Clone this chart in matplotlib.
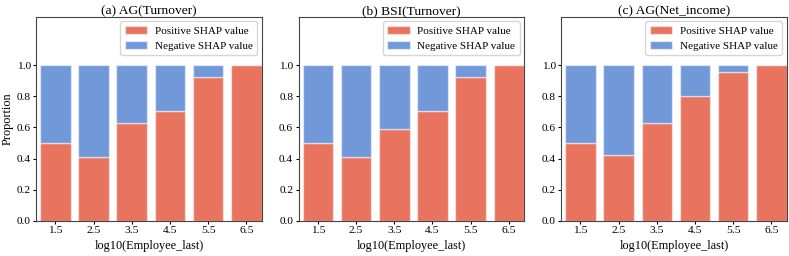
import matplotlib.pyplot as plt
import numpy as np

plt.rcParams['font.family'] = ['Liberation Serif', 'DejaVu Serif']

bins = [1.5, 2.5, 3.5, 4.5, 5.5, 6.5]
tick_labels = ['1.5', '2.5', '3.5', '4.5', '5.5', '6.5']
titles = ['(a) AG(Turnover)', '(b) BSI(Turnover)', '(c) AG(Net_income)']

pos_ag_turnover = [0.50, 0.412, 0.628, 0.709, 0.927, 1.0]
pos_bsi_turnover = [0.50, 0.412, 0.590, 0.709, 0.927, 1.0]
pos_ag_netincome = [0.50, 0.425, 0.626, 0.803, 0.953, 1.0]

red = '#E8735E'
blue = '#7199DA'

fig, axes = plt.subplots(1, 3, figsize=(7.89, 2.56), dpi=100)
fig.subplots_adjust(left=0.046, right=0.997, bottom=0.137, top=0.934, wspace=0.165)

for ax, title, pos in zip(axes, titles, [pos_ag_turnover, pos_bsi_turnover, pos_ag_netincome]):
    pos = np.array(pos)
    neg = 1 - pos
    ax.bar(bins, pos, width=0.8, color=red, edgecolor=(1, 1, 1, 0.5), linewidth=1,
           label='Positive SHAP value')
    ax.bar(bins, neg, width=0.8, bottom=pos, color=blue, edgecolor=(1, 1, 1, 0.5), linewidth=1,
           label='Negative SHAP value')
    ax.set_xlim(1.0, 6.9)
    ax.set_ylim(0, 1.31)
    ax.set_yticks([0, 0.2, 0.4, 0.6, 0.8, 1.0])
    ax.set_xticks(bins)
    ax.set_xticklabels(tick_labels)
    ax.tick_params(labelsize=8.2, length=2.5, pad=1.5)
    ax.set_title(title, fontsize=9.7, pad=2)
    ax.set_xlabel('log10(Employee_last)', fontsize=8.8, labelpad=3)
    for s in ax.spines.values():
        s.set_color('#444444')
    ax.legend(loc='upper right', fontsize=8, handlelength=2.0, handletextpad=0.7,
              borderaxespad=0.4)

axes[0].set_ylabel('Proportion', fontsize=8.8, labelpad=2)

fig.savefig('out.png', dpi=100)
